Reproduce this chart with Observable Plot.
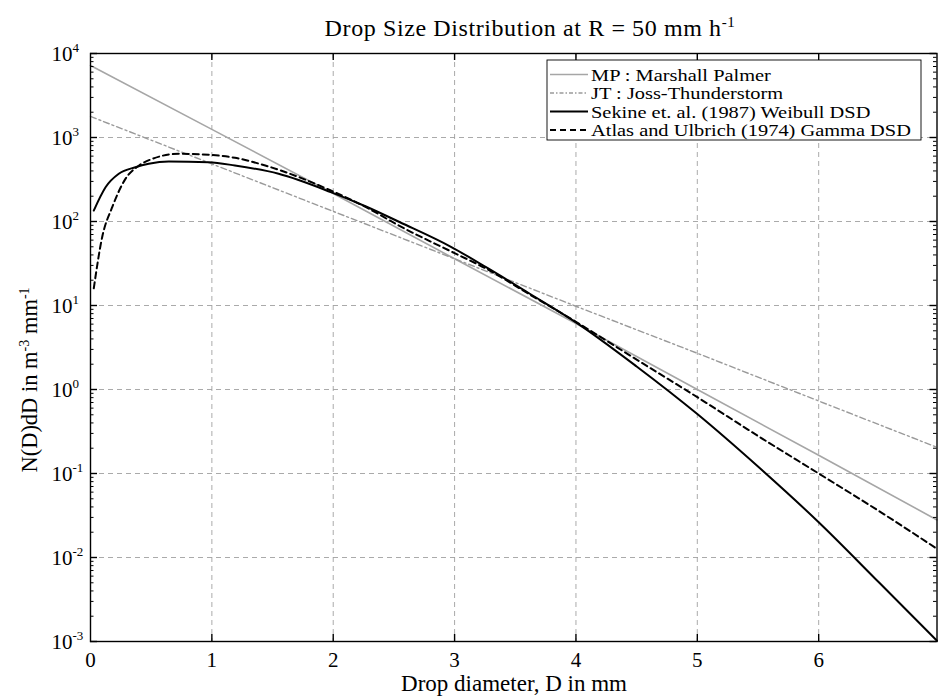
<!DOCTYPE html>
<html>
<head>
<meta charset="utf-8">
<script src="https://cdn.jsdelivr.net/npm/d3@7"></script>
<script src="https://cdn.jsdelivr.net/npm/@observablehq/plot@0.6"></script>
<style>
  html, body { margin: 0; padding: 0; background: #fff; }
  #wrap { position: relative; width: 938px; height: 699px; font-family: "Liberation Serif", "Times New Roman", serif; }
  #wrap > svg { position: absolute; left: 0; top: 0; }
  #overlay { pointer-events: none; }
</style>
</head>
<body>
<div id="wrap"></div>
<script>
// ---- data ----
const mpD = [0, 1, 2, 3, 4, 5, 6, 6.975];
const mpN = [7200, 1250, 215, 36, 6.1, 1.0, 0.165, 0.028];

const jtD = [0, 1, 2, 3, 4, 5, 6, 6.975];
const jtN = [1780, 485, 132, 36, 9.8, 2.7, 0.73, 0.205];

const wbD = [0.027, 0.124, 0.233, 0.37, 0.48, 0.645, 0.974, 1.19, 1.55, 1.98, 2.27, 2.55, 2.97, 3.27, 3.62, 4.0, 4.5, 5.0, 5.5, 6.0, 6.5, 6.975];
const wbN = [135, 256, 370, 443, 487, 518, 508, 464, 370, 224, 151, 98, 50, 28, 13.8, 6.3, 1.88, 0.51, 0.121, 0.0263, 0.0050, 0.00102];

const gmD = [0.027, 0.096, 0.179, 0.288, 0.40, 0.51, 0.73, 0.98, 1.19, 1.44, 1.98, 2.27, 2.55, 3.0, 3.27, 3.62, 4.0, 4.5, 5.0, 5.5, 6.0, 6.5, 6.975];
const gmN = [16, 65, 148, 322, 464, 557, 640, 622, 573, 464, 234, 148, 88, 42, 27, 13.5, 6.4, 2.27, 0.81, 0.28, 0.10, 0.0355, 0.0127];

const seriesNames = [
  "MP : Marshall Palmer",
  "JT : Joss-Thunderstorm",
  "Sekine et. al. (1987) Weibull DSD",
  "Atlas and Ulbrich (1974) Gamma DSD"
];

const xTicks = [0, 1, 2, 3, 4, 5, 6];
const xGrid = [1, 2, 3, 4, 5, 6];
const yExponents = [-3, -2, -1, 0, 1, 2, 3, 4];
const yGridExp = [-2, -1, 0, 1, 2, 3];

const titleText = "Drop Size Distribution at R = 50 mm h";
const xLabel = "Drop diameter, D in mm";

// ---- build tables ----
const toRows = (D, N) => D.map((d, i) => ({D: d, N: N[i]}));
const mp = toRows(mpD, mpN), jt = toRows(jtD, jtN), wb = toRows(wbD, wbN), gm = toRows(gmD, gmN);

const W = 938, H = 699, mL = 90, mR = 1.5, mT = 53, mB = 58;
const innerW = W - mL - mR, innerH = H - mT - mB;

const majorY = yExponents.map(e => Math.pow(10, e));
const minorY = [];
for (let e = -3; e < 4; e++) for (let k = 2; k <= 9; k++) minorY.push(k * Math.pow(10, e));

const chart = Plot.plot({
  width: W, height: H,
  marginLeft: mL, marginRight: mR, marginTop: mT, marginBottom: mB,
  style: {fontFamily: "Liberation Serif, Times New Roman, serif", fontSize: "21px", background: "transparent", color: "black"},
  x: {domain: [0, 6.975], axis: null},
  y: {type: "log", domain: [1e-3, 1e4], axis: null},
  marks: [
    // grid
    Plot.ruleX(xGrid, {x: d => d, stroke: "#a0a0a0", strokeWidth: 0.9, strokeDasharray: "5,4"}),
    Plot.ruleY(yGridExp, {y: e => Math.pow(10, e), stroke: "#a0a0a0", strokeWidth: 0.9, strokeDasharray: "5,4"}),
    // series
    Plot.line(mp, {x: "D", y: "N", stroke: "#a6a6a6", strokeWidth: 1.6}),
    Plot.line(jt, {x: "D", y: "N", stroke: "#9a9a9a", strokeWidth: 1.4, strokeDasharray: "6,3,2,3"}),
    Plot.line(wb, {x: "D", y: "N", stroke: "black", strokeWidth: 2, curve: "monotone-x"}),
    Plot.line(gm, {x: "D", y: "N", stroke: "black", strokeWidth: 2, strokeDasharray: "6,4", curve: "monotone-x"}),
    // frame
    Plot.frame({stroke: "black", strokeWidth: 1.4}),
    // inward ticks x (bottom and top)
    Plot.tickX(xGrid, {x: d => d, stroke: "black", strokeWidth: 1.4, insetTop: innerH - 7}),
    Plot.tickX(xGrid, {x: d => d, stroke: "black", strokeWidth: 1.4, insetBottom: innerH - 7}),
    // inward ticks y (left and right)
    Plot.tickY(majorY, {y: d => d, stroke: "black", strokeWidth: 1.4, insetRight: innerW - 7}),
    Plot.tickY(majorY, {y: d => d, stroke: "black", strokeWidth: 1.4, insetLeft: innerW - 7}),
    Plot.tickY(minorY, {y: d => d, stroke: "black", strokeWidth: 1, insetRight: innerW - 3.5}),
    Plot.tickY(minorY, {y: d => d, stroke: "black", strokeWidth: 1, insetLeft: innerW - 3.5}),
    // x tick labels
    Plot.text(xTicks, {x: d => d, text: d => String(d), frameAnchor: "bottom", lineAnchor: "top", dy: 11, fontSize: 21}),
    // y tick labels: "10" + exponent
    Plot.text(majorY, {y: d => d, text: () => "10", frameAnchor: "left", textAnchor: "end", lineAnchor: "middle", dx: -18, dy: 1, fontSize: 21}),
    Plot.text(yExponents, {y: e => Math.pow(10, e), text: e => String(e), frameAnchor: "left", textAnchor: "start", lineAnchor: "middle", dx: -18, dy: -6, fontSize: 13})
  ]
});

const wrap = document.getElementById("wrap");
wrap.appendChild(chart);

// ---- overlay: title, axis labels, legend ----
const ns = "http://www.w3.org/2000/svg";
const ov = document.createElementNS(ns, "svg");
ov.setAttribute("id", "overlay");
ov.setAttribute("width", W);
ov.setAttribute("height", H);
ov.style.fontFamily = "Liberation Serif, Times New Roman, serif";
const mk = (tag, attrs, text) => {
  const el = document.createElementNS(ns, tag);
  for (const k in attrs) el.setAttribute(k, attrs[k]);
  if (text != null) el.textContent = text;
  return el;
};

// title
const t = mk("text", {x: 530, y: 35.5, "text-anchor": "middle", "font-size": 24, "letter-spacing": 0.6});
t.appendChild(document.createTextNode(titleText));
t.appendChild(mk("tspan", {dy: -9, "font-size": 15}, "-1"));
ov.appendChild(t);

// x label
ov.appendChild(mk("text", {x: 514, y: 691, "text-anchor": "middle", "font-size": 23}, xLabel));

// y label (rotated)
const yl = mk("text", {transform: "translate(36.5,380) rotate(-90)", "text-anchor": "middle", "font-size": 22.5});
yl.appendChild(document.createTextNode("N(D)dD in m"));
yl.appendChild(mk("tspan", {dy: -8, "font-size": 14}, "-3"));
yl.appendChild(mk("tspan", {dy: 8, "font-size": 22.5}, " mm"));
yl.appendChild(mk("tspan", {dy: -8, "font-size": 14}, "-1"));
ov.appendChild(yl);

// legend
ov.appendChild(mk("rect", {x: 547, y: 60, width: 374, height: 80, fill: "white", stroke: "black", "stroke-width": 0.9}));
const legStyles = [
  {stroke: "#a6a6a6", w: 1.6, dash: null},
  {stroke: "#9a9a9a", w: 1.4, dash: "4,2,1.5,2"},
  {stroke: "black", w: 2, dash: null},
  {stroke: "black", w: 2, dash: "6,4"}
];
const rowY = [74.5, 93, 111.5, 130];
seriesNames.forEach((name, i) => {
  const s = legStyles[i];
  const ln = mk("line", {x1: 550, x2: 588, y1: rowY[i], y2: rowY[i], stroke: s.stroke, "stroke-width": s.w});
  if (s.dash) ln.setAttribute("stroke-dasharray", s.dash);
  ov.appendChild(ln);
  ov.appendChild(mk("text", {transform: `translate(591,${rowY[i] + 6}) scale(1.2,1)`, "font-size": 17}, name));
});
wrap.appendChild(ov);
</script>
</body>
</html>
